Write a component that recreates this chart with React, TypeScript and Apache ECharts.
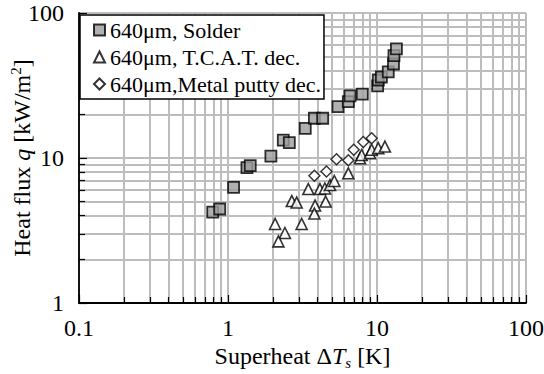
import React, { useEffect, useRef } from 'react';
import * as echarts from 'echarts';

const seriesNames = ['640μm, Solder', '640μm, T.C.A.T. dec.', '640μm,Metal putty dec.'];

const solderX = [0.79, 0.88, 1.09, 1.34, 1.41, 1.94, 2.35, 2.58, 3.3, 3.8, 4.32, 5.47, 6.42, 6.59, 7.97, 10.1, 10.2, 10.7, 11.9, 12.9, 13.0, 13.5];
const solderY = [4.24, 4.45, 6.28, 8.58, 8.85, 10.3, 13.3, 12.75, 16.0, 18.8, 18.8, 22.6, 24.5, 26.8, 27.6, 31.4, 34.5, 36.2, 39.2, 44.5, 50.8, 56.5];

const tcatX = [2.07, 2.41, 2.18, 3.12, 2.68, 2.89, 3.84, 3.8, 4.52, 3.46, 4.14, 4.47, 4.84, 5.17, 6.42, 7.69, 7.89, 8.97, 9.21, 10.2, 11.3];
const tcatY = [3.51, 3.04, 2.66, 3.51, 5.05, 4.93, 4.7, 4.14, 5.01, 6.11, 6.11, 6.16, 6.51, 6.94, 7.84, 9.95, 10.5, 10.8, 11.4, 11.7, 12.0];

const puttyX = [3.8, 4.58, 5.35, 6.42, 6.98, 8.09, 9.21];
const puttyY = [7.55, 8.07, 9.8, 9.64, 11.4, 12.9, 13.7];

const xRange = [0.1, 100];
const yRange = [1, 100];

const FONT = '"Liberation Serif", "Times New Roman", serif';
const AXIS_FS = 24;

const zip = (xs: number[], ys: number[]) => xs.map((x, i) => [x, ys[i]]);

export default function App() {
  const ref = useRef<HTMLDivElement>(null);
  useEffect(() => {
    document.body.style.margin = '0';
    const chart = echarts.init(ref.current!, null, { renderer: 'svg' });
    const gridLine = { show: true, lineStyle: { color: '#bdbdbd', width: 2 } };
    const axisCommon = {
      type: 'log' as const,
      logBase: 10,
      nameMoveOverlap: false,
      axisLine: { show: true, lineStyle: { color: '#000', width: 1.8 } },
      axisTick: { show: true, inside: true, length: 8, lineStyle: { color: '#000', width: 1.2 } },
      minorTick: { show: true, splitNumber: 9, length: 6, lineStyle: { color: '#000', width: 1.2 } },
      splitLine: gridLine,
      minorSplitLine: gridLine,
      axisLabel: { color: '#000', fontFamily: FONT, fontSize: AXIS_FS },
      nameTextStyle: { color: '#000', fontFamily: FONT, fontSize: AXIS_FS },
    };
    chart.setOption({
      animation: false,
      textStyle: { fontFamily: FONT },
      grid: { left: 79, right: 18, top: 13, bottom: 71, containLabel: false, outerBoundsMode: 'none' },
      legend: {
        orient: 'vertical',
        left: 80,
        top: 15,
        data: seriesNames,
        backgroundColor: '#fff',
        borderColor: '#000',
        borderWidth: 1.5,
        padding: [4, 3, 4, 13],
        itemGap: 5,
        itemWidth: 11,
        itemHeight: 11,
        textStyle: { color: '#000', fontFamily: FONT, fontSize: 22 },
      },
      xAxis: {
        ...axisCommon,
        min: xRange[0],
        max: xRange[1],
        axisLabel: { ...axisCommon.axisLabel, margin: 13 },
        name: '{n|Superheat Δ}{i|T}{s|s}{n| [K]}',
        nameLocation: 'middle',
        nameGap: 39,
        nameTextStyle: {
          ...axisCommon.nameTextStyle,
          rich: {
            n: { fontFamily: FONT, fontSize: AXIS_FS, color: '#000' },
            i: { fontFamily: FONT, fontSize: AXIS_FS, fontStyle: 'italic', color: '#000' },
            s: { fontFamily: FONT, fontSize: 15, fontStyle: 'italic', color: '#000', padding: [13, 0, 0, 0] },
          },
        },
      },
      yAxis: {
        ...axisCommon,
        min: yRange[0],
        max: yRange[1],
        axisLabel: { ...axisCommon.axisLabel, margin: 15 },
        name: '{n|Heat flux }{i|q}{n| [kW/m}{p|2}{n|]}',
        nameLocation: 'middle',
        nameGap: 43,
        nameTextStyle: {
          ...axisCommon.nameTextStyle,
          rich: {
            n: { fontFamily: FONT, fontSize: AXIS_FS, color: '#000' },
            i: { fontFamily: FONT, fontSize: AXIS_FS, fontStyle: 'italic', color: '#000' },
            p: { fontFamily: FONT, fontSize: 15, color: '#000', padding: [0, 0, 13, 0] },
          },
        },
      },
      series: [
        {
          name: seriesNames[0],
          type: 'scatter',
          symbol: 'rect',
          symbolSize: 11,
          data: zip(solderX, solderY),
          itemStyle: { color: '#9c9c9c', borderColor: '#000', borderWidth: 1.8 },
        },
        {
          name: seriesNames[1],
          type: 'scatter',
          symbol: 'triangle',
          symbolSize: 11,
          data: zip(tcatX, tcatY),
          itemStyle: { color: '#fff', borderColor: '#000', borderWidth: 1.6 },
        },
        {
          name: seriesNames[2],
          type: 'scatter',
          symbol: 'diamond',
          symbolSize: 11,
          data: zip(puttyX, puttyY),
          itemStyle: { color: '#fff', borderColor: '#000', borderWidth: 1.4 },
        },
      ],
    });
    return () => chart.dispose();
  }, []);
  return <div ref={ref} style={{ position: 'absolute', left: 0, top: 0, width: 544, height: 374 }} />;
}
